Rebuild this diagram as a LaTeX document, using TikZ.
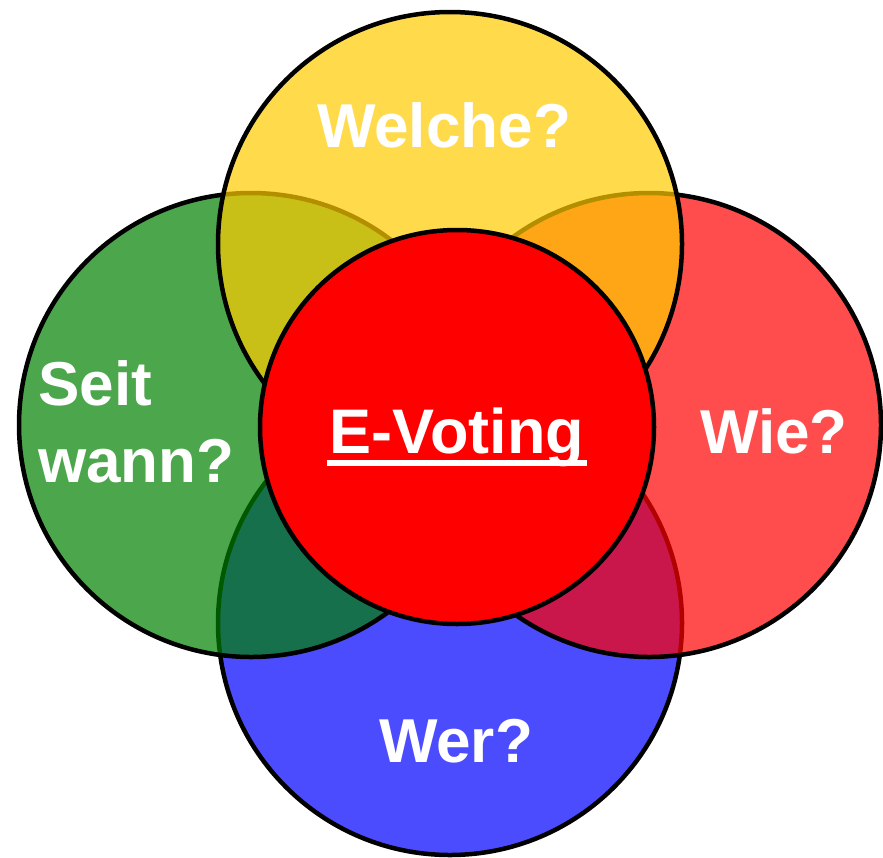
\documentclass[tikz,border=0pt]{standalone}
\usepackage{fontspec}
\setmainfont{Liberation Sans}
\begin{document}
\begin{tikzpicture}[x=1pt,y=-1pt,
  ring/.style={circle, draw=black, line width=4.5pt, inner sep=0pt, minimum size=464pt, fill opacity=0.7},
  lbl/.style={text=white, font=\bfseries\fontsize{62}{77}\selectfont, inner sep=0pt}]
\useasboundingbox (0,0) rectangle (883,857);
\definecolor{cyel}{RGB}{255,204,0}
\definecolor{cgrn}{RGB}{0,128,0}
\definecolor{cred}{RGB}{255,0,0}
\definecolor{cblu}{RGB}{0,0,255}
\node[ring, fill=cblu] (blue) at (450,623) {};
\node[ring, fill=cgrn] (green) at (251,425) {};
\node[ring, fill=cred] (red) at (649,425) {};
\node[ring, fill=cyel] (yellow) at (450,244) {};
\node[circle, draw=black, line width=4.5pt, inner sep=0pt, minimum size=394pt, fill=cred] (center) at (457,427) {};
\node[lbl, anchor=base] (welche) at (444,147) {Welche?};
\node[lbl, anchor=base] (wie) at (774,453) {Wie?};
\node[lbl, anchor=base] (wer) at (456,762) {Wer?};
\node[lbl, anchor=base west, align=left] (seit) at (38,482) {Seit\\wann?};
\node[lbl, anchor=base, font=\bfseries\fontsize{63}{77}\selectfont] (ev) at (457,453) {E-Voting};
\draw[white, line width=6pt] ([xshift=-3pt,yshift=-10pt]ev.base west) -- ([xshift=3pt,yshift=-10pt]ev.base east);
\end{tikzpicture}
\end{document}
